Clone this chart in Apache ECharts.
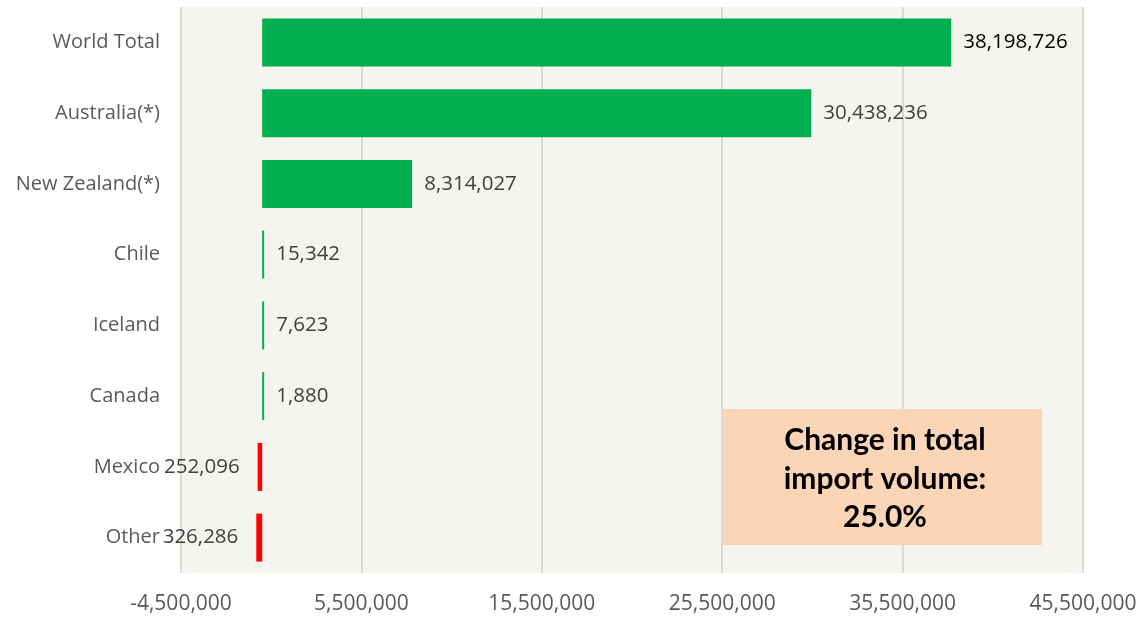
<!DOCTYPE html>
<html><head><meta charset="utf-8">
<script src="https://cdn.jsdelivr.net/npm/echarts@6/dist/echarts.min.js"></script>
<style>html,body{margin:0;padding:0;background:#fff}#c{width:1146px;height:620px}</style>
</head><body><div id="c"></div>
<script>
const categories = ["World Total","Australia(*)","New Zealand(*)","Chile","Iceland","Canada","Mexico","Other"];
const values = [38198726,30438236,8314027,15342,7623,1880,-252096,-326286];
const xMin = -4500000, xMax = 45500000, xStep = 10000000;
const boxText = ["Change in total","import volume:","25.0%"];

const FONT = "'Open Sans', sans-serif";
const BFONT = "Lato, 'Open Sans', sans-serif";
const fmt = v => Math.abs(v).toLocaleString('en-US');
const chart = echarts.init(document.getElementById('c'));
chart.setOption({
  animation:false,
  backgroundColor:'#ffffff',
  grid:{left:181,right:63,top:7,bottom:47,show:true,backgroundColor:'#f5f4ef',borderWidth:0},
  xAxis:{type:'value',min:xMin,max:xMax,interval:xStep,
    axisLine:{show:false},axisTick:{show:false},
    splitLine:{show:true,lineStyle:{color:'#d9d9d9',width:2}},
    axisLabel:{fontFamily:FONT,fontSize:21,color:'#595959',margin:21,formatter:v=>v.toLocaleString('en-US')}},
  yAxis:{type:'category',data:categories,inverse:true,
    axisLine:{show:false},axisTick:{show:false},splitLine:{show:false},
    axisLabel:{fontFamily:FONT,fontSize:20,color:'#595959',margin:21}},
  series:[{type:'bar',barWidth:48,barMinHeight:2,
    data:values.map((v,i)=>({value:v,
      itemStyle:{color:v<0?'#ff0000':'#00b050'},
      label:{show:true,position:v<0?'left':'right',distance:v<0?18:12,
        color:i===0?'#000000':'#404040',fontFamily:FONT,fontSize:20.5,formatter:()=>fmt(v)}})),
  }],
  graphic:[{type:'group',left:723,top:409,z:100,children:[
    {type:'rect',z:100,shape:{x:0,y:0,width:319,height:136},style:{fill:'#fbd5b5'}},
    {type:'text',z:101,x:162,y:70,style:{text:boxText.join('\n'),fontFamily:BFONT,fontWeight:'bold',fontSize:30,lineHeight:38.5,fill:'#000',align:'center',verticalAlign:'middle'}}
  ]}]
});
</script></body></html>
